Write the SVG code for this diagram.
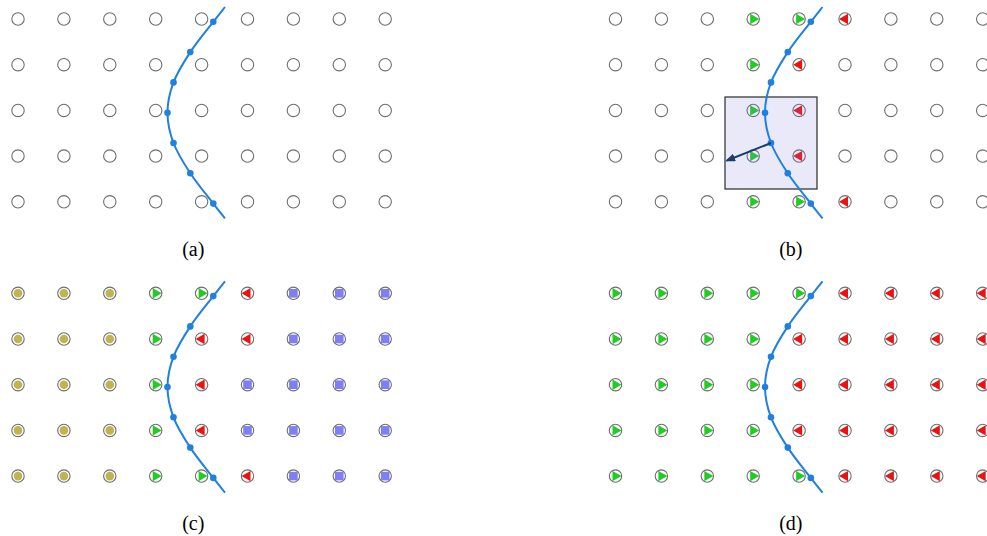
<svg xmlns="http://www.w3.org/2000/svg" xmlns:xlink="http://www.w3.org/1999/xlink" width="987" height="536" viewBox="0 0 987 536">
<style>
.ring{fill:none;stroke:#6e6e6e;stroke-width:1.1}
.curve{fill:none;stroke:#1f80e0;stroke-width:2}
.dot{fill:#1f80e0}
.lbl{font-family:"Liberation Serif","Times New Roman",serif;font-size:20px;fill:#000;text-anchor:middle}
</style>
<defs>
<g id="m-empty"><circle r="6.2" class="ring"/></g>
<g id="m-green"><polygon points="6,0 -3,-5.2 -3,5.2" fill="#22cc22"/><circle r="6.2" class="ring"/></g>
<g id="m-red"><polygon points="-6,0 3,-5.2 3,5.2" fill="#ee1111"/><circle r="6.2" class="ring"/></g>
<g id="m-olive"><circle r="4.3" fill="#bfb44f"/><circle r="6.2" class="ring"/></g>
<g id="m-blue"><rect x="-4.3" y="-4.3" width="8.6" height="8.6" fill="#7f7ff5"/><circle r="6.2" class="ring"/></g>
<g id="curve-with-dots">
<path class="curve" d="M225,7 C221.1,11.9 219.1,14.3 213.3,21.8 C207.5,29.3 196.9,42 190.3,52.1 C183.7,62.2 177.3,72.3 173.5,82.4 C169.7,92.5 167.5,102.6 167.5,112.7 C167.5,122.8 169.7,132.9 173.5,143 C177.3,153.1 183.7,163.2 190.3,173.3 C196.9,183.4 207.5,196.1 213.3,203.6 C219.1,211.1 221.1,213.5 225,218.4"/>
<circle class="dot" cx="213.3" cy="21.8" r="3.3"/>
<circle class="dot" cx="190.3" cy="52.1" r="3.3"/>
<circle class="dot" cx="173.5" cy="82.4" r="3.3"/>
<circle class="dot" cx="167.5" cy="112.7" r="3.3"/>
<circle class="dot" cx="173.5" cy="143" r="3.3"/>
<circle class="dot" cx="190.3" cy="173.3" r="3.3"/>
<circle class="dot" cx="213.3" cy="203.6" r="3.3"/>
</g>
<marker id="arrowhead" viewBox="0 0 10 8" refX="8" refY="4" markerWidth="10" markerHeight="8" markerUnits="userSpaceOnUse" orient="auto">
<path d="M0,0 L10,4 L0,8 Z" fill="#1a3d6e"/>
</marker>
</defs>

<g id="panel-a">
<g id="a-nodes">
<use href="#m-empty" x="18" y="19"/><use href="#m-empty" x="63.9" y="19"/><use href="#m-empty" x="109.8" y="19"/><use href="#m-empty" x="155.7" y="19"/><use href="#m-empty" x="201.6" y="19"/><use href="#m-empty" x="247.5" y="19"/><use href="#m-empty" x="293.4" y="19"/><use href="#m-empty" x="339.3" y="19"/><use href="#m-empty" x="385.2" y="19"/>
<use href="#m-empty" x="18" y="64.7"/><use href="#m-empty" x="63.9" y="64.7"/><use href="#m-empty" x="109.8" y="64.7"/><use href="#m-empty" x="155.7" y="64.7"/><use href="#m-empty" x="201.6" y="64.7"/><use href="#m-empty" x="247.5" y="64.7"/><use href="#m-empty" x="293.4" y="64.7"/><use href="#m-empty" x="339.3" y="64.7"/><use href="#m-empty" x="385.2" y="64.7"/>
<use href="#m-empty" x="18" y="110.4"/><use href="#m-empty" x="63.9" y="110.4"/><use href="#m-empty" x="109.8" y="110.4"/><use href="#m-empty" x="155.7" y="110.4"/><use href="#m-empty" x="201.6" y="110.4"/><use href="#m-empty" x="247.5" y="110.4"/><use href="#m-empty" x="293.4" y="110.4"/><use href="#m-empty" x="339.3" y="110.4"/><use href="#m-empty" x="385.2" y="110.4"/>
<use href="#m-empty" x="18" y="156.1"/><use href="#m-empty" x="63.9" y="156.1"/><use href="#m-empty" x="109.8" y="156.1"/><use href="#m-empty" x="155.7" y="156.1"/><use href="#m-empty" x="201.6" y="156.1"/><use href="#m-empty" x="247.5" y="156.1"/><use href="#m-empty" x="293.4" y="156.1"/><use href="#m-empty" x="339.3" y="156.1"/><use href="#m-empty" x="385.2" y="156.1"/>
<use href="#m-empty" x="18" y="201.8"/><use href="#m-empty" x="63.9" y="201.8"/><use href="#m-empty" x="109.8" y="201.8"/><use href="#m-empty" x="155.7" y="201.8"/><use href="#m-empty" x="201.6" y="201.8"/><use href="#m-empty" x="247.5" y="201.8"/><use href="#m-empty" x="293.4" y="201.8"/><use href="#m-empty" x="339.3" y="201.8"/><use href="#m-empty" x="385.2" y="201.8"/>
</g>
<g id="a-connectors"><use href="#curve-with-dots"/></g>
<text class="lbl" x="193.3" y="256">(a)</text>
</g>

<g id="panel-b" transform="translate(597.5,0)">
<g id="b-nodes">
<use href="#m-empty" x="18" y="19"/><use href="#m-empty" x="63.9" y="19"/><use href="#m-empty" x="109.8" y="19"/><use href="#m-green" x="155.7" y="19"/><use href="#m-green" x="201.6" y="19"/><use href="#m-red" x="247.5" y="19"/><use href="#m-empty" x="293.4" y="19"/><use href="#m-empty" x="339.3" y="19"/><use href="#m-empty" x="385.2" y="19"/>
<use href="#m-empty" x="18" y="64.7"/><use href="#m-empty" x="63.9" y="64.7"/><use href="#m-empty" x="109.8" y="64.7"/><use href="#m-green" x="155.7" y="64.7"/><use href="#m-red" x="201.6" y="64.7"/><use href="#m-empty" x="247.5" y="64.7"/><use href="#m-empty" x="293.4" y="64.7"/><use href="#m-empty" x="339.3" y="64.7"/><use href="#m-empty" x="385.2" y="64.7"/>
<use href="#m-empty" x="18" y="110.4"/><use href="#m-empty" x="63.9" y="110.4"/><use href="#m-empty" x="109.8" y="110.4"/><use href="#m-green" x="155.7" y="110.4"/><use href="#m-red" x="201.6" y="110.4"/><use href="#m-empty" x="247.5" y="110.4"/><use href="#m-empty" x="293.4" y="110.4"/><use href="#m-empty" x="339.3" y="110.4"/><use href="#m-empty" x="385.2" y="110.4"/>
<use href="#m-empty" x="18" y="156.1"/><use href="#m-empty" x="63.9" y="156.1"/><use href="#m-empty" x="109.8" y="156.1"/><use href="#m-green" x="155.7" y="156.1"/><use href="#m-red" x="201.6" y="156.1"/><use href="#m-empty" x="247.5" y="156.1"/><use href="#m-empty" x="293.4" y="156.1"/><use href="#m-empty" x="339.3" y="156.1"/><use href="#m-empty" x="385.2" y="156.1"/>
<use href="#m-empty" x="18" y="201.8"/><use href="#m-empty" x="63.9" y="201.8"/><use href="#m-empty" x="109.8" y="201.8"/><use href="#m-green" x="155.7" y="201.8"/><use href="#m-green" x="201.6" y="201.8"/><use href="#m-red" x="247.5" y="201.8"/><use href="#m-empty" x="293.4" y="201.8"/><use href="#m-empty" x="339.3" y="201.8"/><use href="#m-empty" x="385.2" y="201.8"/>
</g>
<rect id="b-window" x="127.5" y="97" width="92" height="92" fill="#7f7fe0" fill-opacity="0.17" stroke="#3a3a3a" stroke-width="1.3"/>
<g id="b-connectors">
<use href="#curve-with-dots"/>
<line x1="173.5" y1="143" x2="129.5" y2="160.5" stroke="#1a3d6e" stroke-width="2" marker-end="url(#arrowhead)"/>
</g>
<text class="lbl" x="193.3" y="256">(b)</text>
</g>

<g id="panel-c" transform="translate(0,274.3)">
<g id="c-nodes">
<use href="#m-olive" x="18" y="19"/><use href="#m-olive" x="63.9" y="19"/><use href="#m-olive" x="109.8" y="19"/><use href="#m-green" x="155.7" y="19"/><use href="#m-green" x="201.6" y="19"/><use href="#m-red" x="247.5" y="19"/><use href="#m-blue" x="293.4" y="19"/><use href="#m-blue" x="339.3" y="19"/><use href="#m-blue" x="385.2" y="19"/>
<use href="#m-olive" x="18" y="64.7"/><use href="#m-olive" x="63.9" y="64.7"/><use href="#m-olive" x="109.8" y="64.7"/><use href="#m-green" x="155.7" y="64.7"/><use href="#m-red" x="201.6" y="64.7"/><use href="#m-red" x="247.5" y="64.7"/><use href="#m-blue" x="293.4" y="64.7"/><use href="#m-blue" x="339.3" y="64.7"/><use href="#m-blue" x="385.2" y="64.7"/>
<use href="#m-olive" x="18" y="110.4"/><use href="#m-olive" x="63.9" y="110.4"/><use href="#m-olive" x="109.8" y="110.4"/><use href="#m-green" x="155.7" y="110.4"/><use href="#m-red" x="201.6" y="110.4"/><use href="#m-blue" x="247.5" y="110.4"/><use href="#m-blue" x="293.4" y="110.4"/><use href="#m-blue" x="339.3" y="110.4"/><use href="#m-blue" x="385.2" y="110.4"/>
<use href="#m-olive" x="18" y="156.1"/><use href="#m-olive" x="63.9" y="156.1"/><use href="#m-olive" x="109.8" y="156.1"/><use href="#m-green" x="155.7" y="156.1"/><use href="#m-red" x="201.6" y="156.1"/><use href="#m-blue" x="247.5" y="156.1"/><use href="#m-blue" x="293.4" y="156.1"/><use href="#m-blue" x="339.3" y="156.1"/><use href="#m-blue" x="385.2" y="156.1"/>
<use href="#m-olive" x="18" y="201.8"/><use href="#m-olive" x="63.9" y="201.8"/><use href="#m-olive" x="109.8" y="201.8"/><use href="#m-green" x="155.7" y="201.8"/><use href="#m-green" x="201.6" y="201.8"/><use href="#m-red" x="247.5" y="201.8"/><use href="#m-blue" x="293.4" y="201.8"/><use href="#m-blue" x="339.3" y="201.8"/><use href="#m-blue" x="385.2" y="201.8"/>
</g>
<g id="c-connectors"><use href="#curve-with-dots"/></g>
<text class="lbl" x="193.3" y="256">(c)</text>
</g>

<g id="panel-d" transform="translate(597.5,274.3)">
<g id="d-nodes">
<use href="#m-green" x="18" y="19"/><use href="#m-green" x="63.9" y="19"/><use href="#m-green" x="109.8" y="19"/><use href="#m-green" x="155.7" y="19"/><use href="#m-green" x="201.6" y="19"/><use href="#m-red" x="247.5" y="19"/><use href="#m-red" x="293.4" y="19"/><use href="#m-red" x="339.3" y="19"/><use href="#m-red" x="385.2" y="19"/>
<use href="#m-green" x="18" y="64.7"/><use href="#m-green" x="63.9" y="64.7"/><use href="#m-green" x="109.8" y="64.7"/><use href="#m-green" x="155.7" y="64.7"/><use href="#m-red" x="201.6" y="64.7"/><use href="#m-red" x="247.5" y="64.7"/><use href="#m-red" x="293.4" y="64.7"/><use href="#m-red" x="339.3" y="64.7"/><use href="#m-red" x="385.2" y="64.7"/>
<use href="#m-green" x="18" y="110.4"/><use href="#m-green" x="63.9" y="110.4"/><use href="#m-green" x="109.8" y="110.4"/><use href="#m-green" x="155.7" y="110.4"/><use href="#m-red" x="201.6" y="110.4"/><use href="#m-red" x="247.5" y="110.4"/><use href="#m-red" x="293.4" y="110.4"/><use href="#m-red" x="339.3" y="110.4"/><use href="#m-red" x="385.2" y="110.4"/>
<use href="#m-green" x="18" y="156.1"/><use href="#m-green" x="63.9" y="156.1"/><use href="#m-green" x="109.8" y="156.1"/><use href="#m-green" x="155.7" y="156.1"/><use href="#m-red" x="201.6" y="156.1"/><use href="#m-red" x="247.5" y="156.1"/><use href="#m-red" x="293.4" y="156.1"/><use href="#m-red" x="339.3" y="156.1"/><use href="#m-red" x="385.2" y="156.1"/>
<use href="#m-green" x="18" y="201.8"/><use href="#m-green" x="63.9" y="201.8"/><use href="#m-green" x="109.8" y="201.8"/><use href="#m-green" x="155.7" y="201.8"/><use href="#m-green" x="201.6" y="201.8"/><use href="#m-red" x="247.5" y="201.8"/><use href="#m-red" x="293.4" y="201.8"/><use href="#m-red" x="339.3" y="201.8"/><use href="#m-red" x="385.2" y="201.8"/>
</g>
<g id="d-connectors"><use href="#curve-with-dots"/></g>
<text class="lbl" x="193.3" y="256">(d)</text>
</g>
</svg>
